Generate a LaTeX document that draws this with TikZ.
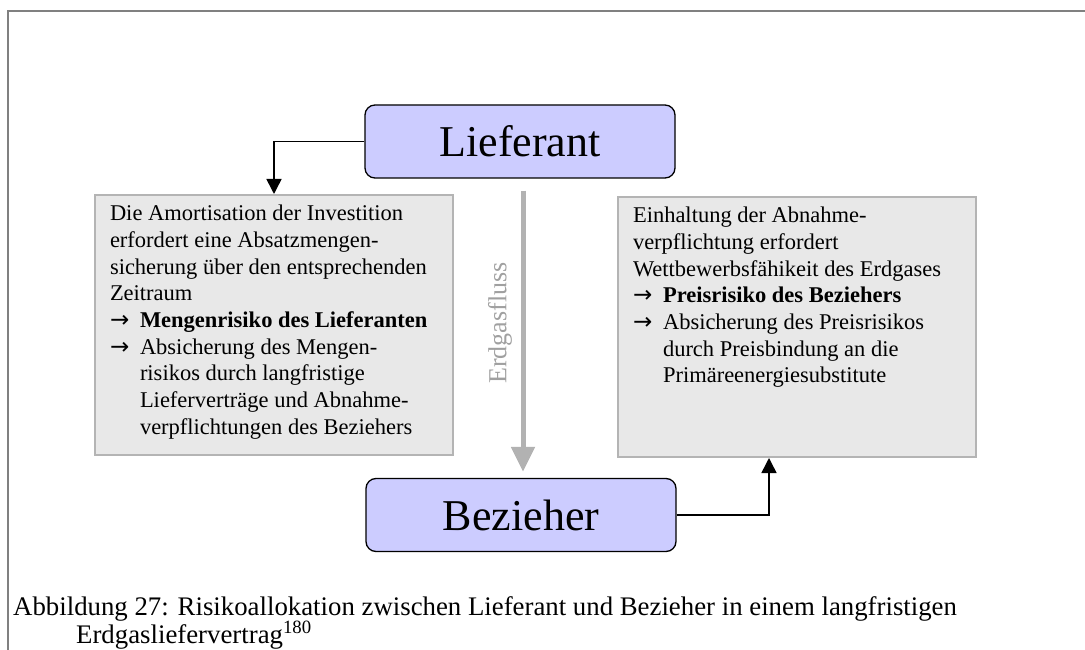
\documentclass[tikz,border=0pt]{standalone}
\usepackage{fontspec}
\setmainfont{Liberation Serif}
\newfontfamily\pfeilfont{DejaVu Sans}
\usepackage{xcolor}
\usetikzlibrary{arrows.meta,positioning}
\definecolor{lila}{HTML}{CCCCFF}
\definecolor{hellgrau}{HTML}{E8E8E8}
\definecolor{randgrau}{HTML}{B4B4B4}
\definecolor{flussgrau}{HTML}{B2B2B2}
\definecolor{schriftgrau}{HTML}{A0A0A0}
\definecolor{rahmengrau}{HTML}{808080}
\def\notiz#1{\parbox[c][240pt][t]{328pt}{\raggedright #1}}
\def\folge{\par\hangindent=30pt\hangafter=1\makebox[30pt][l]{\pfeilfont\fontsize{23}{20}\selectfont →}}
\tikzstyle{partner}=[draw=black,line width=1.3pt,fill=lila,rounded corners=10pt,minimum width=310pt,minimum height=73pt,font=\fontsize{44}{48}\selectfont]
\tikzstyle{kasten}=[draw=randgrau,line width=2pt,fill=hellgrau,inner sep=0pt,minimum width=358pt,minimum height=260pt,font=\fontsize{22.5}{26.7}\selectfont]
\tikzstyle{pfeil}=[line width=1.5pt,-{Triangle[width=15pt,length=15pt]}]
\tikzstyle{fluss}=[line width=5pt,flussgrau,-{Triangle[width=23pt,length=25pt]}]
\tikzstyle{rahmen}=[line width=2pt,rahmengrau]

\begin{document}
\begin{tikzpicture}[x=1pt,y=-1pt]
  \useasboundingbox (0,0) rectangle (1085,650);
  \draw[rahmen] (8,650) -- (8,11) -- (1085,11);
  % Partner
  \node[partner] (lief) at (520,141.5) {Lieferant};
  \node[partner] (bez) at (521,515) {Bezieher};
  % Risiken
  \node[kasten] (links) at (274,325) {\notiz{Die Amortisation der Investition\newline
    erfordert eine Absatzmengen-\newline
    sicherung über den entsprechenden\newline
    Zeitraum
    \folge\textbf{Mengenrisiko des Lieferanten}
    \folge Absicherung des Mengen-\newline
    risikos durch langfristige\newline
    Lieferverträge und Abnahme-\newline
    verpflichtungen des Beziehers}};
  \node[kasten] (rechts) at (797,327) {\notiz{Einhaltung der Abnahme-\newline
    verpflichtung erfordert\newline
    Wettbewerbsfähikeit des Erdgases
    \folge\textbf{Preisrisiko des Beziehers}
    \folge Absicherung des Preisrisikos\newline
    durch Preisbindung an die\newline
    Primäreenergiesubstitute}};
  % Verbindungen
  \draw[pfeil] (lief.west) -| (links.north);
  \draw[pfeil] (bez.east) -| ([xshift=-28pt]rechts.south);
  \draw[fluss] ([xshift=3pt,yshift=-12pt]lief.south) -- ([xshift=2pt,yshift=6pt]bez.north);
  \node[rotate=90,text=schriftgrau,font=\fontsize{26}{30}\selectfont] (flusstext) at (500,323) {Erdgasfluss};
  % Unterschrift
  \node[anchor=base west,inner sep=0pt,font=\fontsize{26.8}{28}\selectfont] (titel) at (13,615)
    {\parbox[t]{1070pt}{\hangindent=63pt\hangafter=1 Abbildung 27: Risikoallokation zwischen Lieferant und Bezieher in einem langfristigen\newline
    Erdgasliefervertrag\textsuperscript{180}}};
\end{tikzpicture}
\end{document}
